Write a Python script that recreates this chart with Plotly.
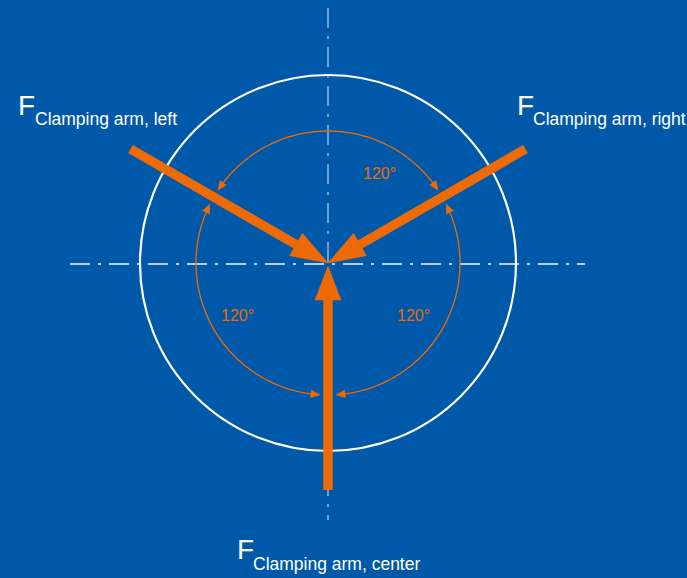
import numpy as np
import plotly.graph_objects as go

W, H = 687, 578
BG = "#0059a8"
ORANGE = "#ee6a05"

# geometry (pixel units of the reference picture)
center = [328, 263]
circle_radius = [188]
arc_radius = [132]
arm_angles = [150, 30, 270]          # degrees: left, right, center arm
arm_length = [228, 228, 227]
arm_names = ["Clamping arm, left", "Clamping arm, right", "Clamping arm, center"]
angle_labels = ["120°", "120°", "120°"]
angle_label_dx = [51.5, -90.5, 85.5]
angle_label_dy = [-90, 52.5, 52.5]
arc_gap_deg = [3.5]
axis_h = [70, 585]
axis_v = [8, 520]

cx, cy = center


def pt(r, a):
    t = np.radians(a)
    return cx + r * np.cos(t), cy - r * np.sin(t)


shapes = []

# centre lines
shapes.append(dict(type="line", x0=axis_h[0], x1=axis_h[1], y0=cy + 1, y1=cy + 1,
                   line=dict(color="rgba(255,255,255,0.95)", width=1.3, dash="20px,8px,3px,8px")))
shapes.append(dict(type="line", x0=cx, x1=cx, y0=axis_v[0], y1=axis_v[1],
                   line=dict(color="rgba(200,225,255,0.8)", width=1.3, dash="20px,8px,3px,8px")))

# circle
R = circle_radius[0]
shapes.append(dict(type="circle", x0=cx - R, x1=cx + R, y0=cy - R, y1=cy + R,
                   line=dict(color="white", width=2.2)))

# angle arcs with arrowheads
r = arc_radius[0]
g = arc_gap_deg[0]
arcs = [(30 + g, 150 - g), (150 + g, 270 - g), (270 + g, 390 - g)]


def arrowhead(a_tip, a_from, length=9, hw=3.8):
    tx, ty = pt(r, a_tip)
    d = np.degrees(length / r)
    bx, by = pt(r, a_tip - d if a_from < a_tip else a_tip + d)
    ux, uy = tx - bx, ty - by
    n = np.hypot(ux, uy)
    ux, uy = ux / n, uy / n
    nx, ny = -uy, ux
    return (f"M {tx:.2f} {ty:.2f} L {bx + nx * hw:.2f} {by + ny * hw:.2f} "
            f"L {bx - nx * hw:.2f} {by - ny * hw:.2f} Z")


for a0, a1 in arcs:
    aa = np.linspace(a0 + 2, a1 - 2, 80)
    xs, ys = pt(r, aa)
    path = "M " + " L ".join(f"{x:.2f} {y:.2f}" for x, y in zip(xs, ys))
    shapes.append(dict(type="path", path=path, line=dict(color=ORANGE, width=1.3)))
    shapes.append(dict(type="path", path=arrowhead(a0, a1), fillcolor=ORANGE,
                       line=dict(color=ORANGE, width=0.5)))
    shapes.append(dict(type="path", path=arrowhead(a1, a0), fillcolor=ORANGE,
                       line=dict(color=ORANGE, width=0.5)))

# force arrows
head_len, head_hw = 37, 13
for a, L in zip(arm_angles, arm_length):
    sx, sy = pt(L, a)
    bx, by = pt(head_len, a)
    shapes.append(dict(type="line", x0=sx, y0=sy, x1=bx, y1=by,
                       line=dict(color=ORANGE, width=9.5)))
    ux, uy = (cx - bx) / head_len, (cy - by) / head_len
    nx, ny = -uy, ux
    tip_x, tip_y = cx, cy + (3 if a == 270 else 0)
    path = (f"M {tip_x:.2f} {tip_y:.2f} L {bx + nx * head_hw:.2f} {by + ny * head_hw:.2f} "
            f"L {bx - nx * head_hw:.2f} {by - ny * head_hw:.2f} Z")
    shapes.append(dict(type="path", path=path, fillcolor=ORANGE, line=dict(color=ORANGE, width=0.5)))

annotations = []
FONT = "Liberation Sans, Arial, sans-serif"
for lab, dx, dy in zip(angle_labels, angle_label_dx, angle_label_dy):
    annotations.append(dict(x=cx + dx, y=cy + dy, text=lab, showarrow=False, xanchor="center",
                            yanchor="middle", font=dict(family=FONT, size=16, color=ORANGE)))

label_pos = [(18, 105, 35, 119), (517, 105, 533, 119), (237, 549, 253, 564)]
for name, (fx, fy, sx, sy) in zip(arm_names, label_pos):
    annotations.append(dict(x=fx, y=fy, text="F", showarrow=False, xanchor="left", yanchor="middle",
                            font=dict(family=FONT, size=28, color="white"), xshift=-2))
    annotations.append(dict(x=sx, y=sy, text=name, showarrow=False, xanchor="left", yanchor="middle",
                            font=dict(family=FONT, size=17.5, color="white"), xshift=-2))

fig = go.Figure()
fig.add_trace(go.Scatter(x=[cx], y=[cy], mode="markers", marker=dict(size=1, color=BG), hoverinfo="skip"))
fig.update_layout(
    width=W, height=H, margin=dict(l=0, r=0, t=0, b=0),
    paper_bgcolor=BG, plot_bgcolor=BG, showlegend=False,
    xaxis=dict(range=[0, W], visible=False, fixedrange=True),
    yaxis=dict(range=[H, 0], visible=False, fixedrange=True),
    shapes=shapes, annotations=annotations,
)
fig.write_html("out.html", config=dict(displayModeBar=False),
               post_script="document.body.style.margin='0';document.body.style.overflow='hidden';")
